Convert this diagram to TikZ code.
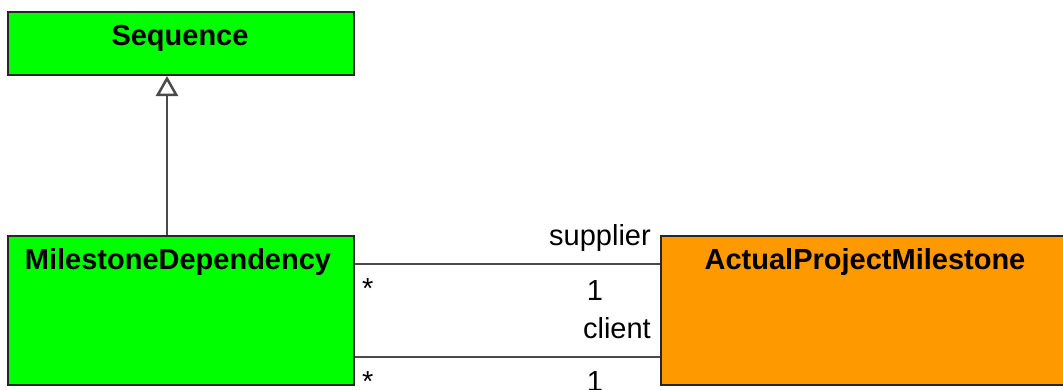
\documentclass[tikz,border=0pt]{standalone}
\usepackage{fontspec}
\setmainfont{Liberation Sans}
\usetikzlibrary{arrows.meta,calc}
\definecolor{clsgreen}{HTML}{00FF00}
\definecolor{clsorange}{HTML}{FF9900}
\definecolor{linegray}{HTML}{4A4A4A}
\tikzset{
  clsbox/.style={draw=black!85, line width=2pt, rectangle, inner sep=0pt, anchor=north west},
  title/.style={font=\fontsize{29}{33}\selectfont\bfseries, anchor=base, inner sep=0pt},
  lbl/.style={font=\fontsize{29}{33}\selectfont, inner sep=0pt},
  conn/.style={draw=linegray, line width=2.7pt},
  gen/.style={conn, -{Triangle[open, length=20pt, width=22pt, line width=2.5pt]}}
}
\begin{document}
\begin{tikzpicture}[x=1pt,y=-1pt]
\useasboundingbox (0,0) rectangle (1063,389);
\clip (0,0) rectangle (1063,389);
\node[clsbox, fill=clsgreen, minimum width=346pt, minimum height=63pt] (seq) at (7,11) {};
\node[clsbox, fill=clsgreen, minimum width=346pt, minimum height=149pt] (md) at (7,235) {};
\node[clsbox, fill=clsorange, minimum width=412pt, minimum height=149pt] (apm) at (660,235) {};
\node[title] (seqt) at (180,45.5) {Sequence};
\node[title] (mdt) at (178,269.5) {MilestoneDependency};
\node[title] (apmt) at (865,269.5) {ActualProjectMilestone};
\draw[gen] ($(md.north west)+(160,0)$) -- ($(seq.south west)+(160,0)$);
\draw[conn] ($(md.north east)+(0,29)$) -- ($(apm.north west)+(0,29)$);
\draw[conn] ($(md.north east)+(0,122)$) -- ($(apm.north west)+(0,122)$);
\node[lbl, anchor=base east] (sup) at (651,245) {supplier};
\node[lbl, anchor=base] (one1) at (595,300) {1};
\node[lbl, anchor=base east] (cli) at (651,338) {client};
\node[lbl, anchor=base] (one2) at (595,391) {1};
\node[lbl, anchor=base west] (st1) at (362,298) {*};
\node[lbl, anchor=base west] (st2) at (362,391) {*};
\end{tikzpicture}
\end{document}
